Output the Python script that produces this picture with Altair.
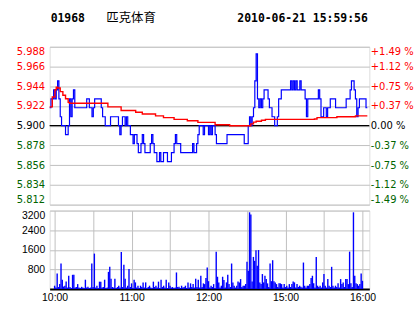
import altair as alt
import pandas as pd

# ---------------- data ----------------
header_code = "01968"
header_name = "匹克体育"
header_time = "2010-06-21 15:59:56"

prev_close = 5.900
price_ticks = [5.812, 5.834, 5.856, 5.878, 5.900, 5.922, 5.944, 5.966, 5.988]
vol_ticks = [0, 800, 1600, 2400, 3200]
grid_minutes = [0, 30, 60, 90, 120, 150, 180, 210, 240]
time_ticks = [0, 60, 120, 180, 240]
time_labels = ["10:00", "11:00", "12:00", "15:00", "16:00"]

# price (blue) change points: minute index from 10:00 (HK session), price
price_min = [0, 1, 3, 4, 5, 6, 7, 8, 9, 12, 14, 15, 16, 17, 18, 19, 28, 30, 32, 33,
             34, 39, 40, 42, 46, 52, 53, 54, 55, 57, 58, 59, 61, 63, 64, 66, 67, 69, 70, 71,
             72, 76, 77, 78, 79, 81, 83, 84, 86, 89, 92, 94, 95, 96, 99, 108, 109, 111, 112, 113,
             116, 117, 120, 121, 122, 123, 125, 126, 134, 147, 150, 151, 152, 153, 154, 155,
             156, 157, 158, 159, 160, 161, 162, 165, 166, 168, 170, 172, 173, 175, 182, 183, 184, 185, 186, 187,
             189, 190, 193, 194, 195, 203, 204, 205, 207, 209, 210, 212, 216, 224, 227, 228, 230, 231, 232, 233,
             234, 239, 240]
price_val = [5.92, 5.93, 5.94, 5.93, 5.94, 5.95, 5.93, 5.91, 5.90, 5.89, 5.90, 5.93, 5.91, 5.93, 5.94, 5.92, 5.93, 5.92, 5.91, 5.92,
             5.93, 5.92, 5.91, 5.90, 5.91, 5.90, 5.89, 5.90, 5.91, 5.90, 5.91, 5.90, 5.89, 5.88, 5.89, 5.88, 5.87, 5.88, 5.89, 5.88,
             5.87, 5.88, 5.89, 5.88, 5.87, 5.86, 5.87, 5.86, 5.87, 5.86, 5.87, 5.88, 5.89, 5.88, 5.87, 5.88, 5.87, 5.88, 5.89, 5.90,
             5.89, 5.90, 5.89, 5.90, 5.89, 5.90, 5.89, 5.88, 5.89, 5.88, 5.90, 5.91, 5.90, 5.91, 5.92, 5.95,
             5.98, 5.93, 5.92, 5.93, 5.92, 5.93, 5.94, 5.93, 5.92, 5.91, 5.90, 5.91, 5.93, 5.94, 5.95, 5.94, 5.95, 5.94, 5.95, 5.94,
             5.95, 5.94, 5.93, 5.91, 5.93, 5.94, 5.93, 5.91, 5.92, 5.91, 5.92, 5.93, 5.92, 5.93, 5.94, 5.95, 5.94, 5.93, 5.91, 5.92,
             5.93, 5.92, 5.92]

# average price (red) change points
avg_min = [0, 2, 4, 5, 6, 8, 10, 12, 14, 15, 42, 44, 52, 54, 63, 65, 69, 70, 78, 80,
           85, 86, 93, 94, 103, 104, 110, 112, 123, 125, 135, 136, 150, 152, 154, 156, 160, 163, 200, 202,
           216, 217, 229, 231, 240]
avg_val = [5.921, 5.932, 5.940, 5.943, 5.942, 5.938, 5.934, 5.930, 5.926, 5.925, 5.925, 5.921, 5.921, 5.917, 5.917, 5.915, 5.915, 5.913, 5.913, 5.911,
           5.911, 5.909, 5.909, 5.907, 5.907, 5.9055, 5.9055, 5.9037, 5.9037, 5.901, 5.901, 5.900, 5.900, 5.902, 5.904, 5.905, 5.906, 5.907, 5.9074, 5.909,
           5.909, 5.910, 5.910, 5.911, 5.911]

# volume per minute, minutes 0..240
volume = [135, 60, 635, 80, 200, 1040, 380, 100, 135, 310,
          60, 540, 80, 40, 580, 580, 60, 80, 200, 60,
          40, 90, 60, 40, 380, 60, 90, 40, 60, 1040,
          80, 1445, 60, 135, 40, 300, 300, 60, 80, 380,
          40, 60, 700, 905, 420, 80, 60, 420, 40, 80,
          135, 60, 1510, 80, 985, 420, 60, 135, 820, 80,
          230, 40, 380, 270, 60, 135, 40, 135, 80, 270,
          60, 270, 40, 80, 135, 60, 40, 300, 80, 135,
          60, 300, 40, 380, 80, 135, 60, 380, 40, 270,
          135, 60, 80, 40, 60, 675, 80, 90, 40, 135,
          60, 80, 135, 40, 270, 60, 230, 80, 200, 60,
          420, 80, 380, 60, 540, 80, 230, 200, 445, 880,
          320, 60, 135, 80, 200, 40, 1525, 500, 270, 60,
          135, 500, 370, 60, 270, 580, 200, 80, 1040, 270,
          135, 60, 135, 310, 270, 405, 80, 135, 135, 200,
          1110, 740, 3130, 3040, 310, 1310, 1150, 1580, 945, 1590,
          270, 200, 610, 270, 540, 405, 230, 80, 1040, 320,
          1175, 320, 270, 200, 80, 230, 230, 200, 60, 200,
          80, 135, 60, 200, 80, 200, 310, 270, 60, 200,
          80, 135, 90, 60, 1080, 135, 60, 135, 135, 200,
          445, 540, 230, 60, 1310, 135, 80, 135, 60, 270,
          610, 135, 60, 405, 135, 80, 905, 135, 60, 135,
          80, 230, 60, 405, 200, 270, 80, 405, 405, 200,
          1525, 230, 80, 3130, 540, 230, 200, 135, 200, 635, 335]

# ---------------- tables ----------------
price_df = pd.DataFrame({"m": price_min, "p": price_val})
avg_df = pd.DataFrame({"m": avg_min, "p": avg_val})
vol_df = pd.DataFrame({"m": list(range(len(volume))), "v": volume})
pc_df = pd.DataFrame({"p": [prev_close]})
hdr_df = pd.DataFrame({"a": [0]})

W = 322
GRID = "#c0c0c0"
RED = "#ff0000"
GREEN = "#006400"

xscale = alt.Scale(domain=[0, 241.5], nice=False, zero=False)
pscale = alt.Scale(domain=[price_ticks[0], price_ticks[-1]], nice=False, zero=False)
vscale = alt.Scale(domain=[0, vol_ticks[-1]], nice=False)

color_cond = {
    "condition": [
        {"test": f"datum.value > {prev_close + 0.0005}", "value": RED},
        {"test": f"datum.value < {prev_close - 0.0005}", "value": GREEN},
    ],
    "value": "#000000",
}

pct_expr = (f"(datum.value > {prev_close + 0.0005} ? '+' : datum.value < {prev_close - 0.0005} ? '-' : '') + "
            f"format(abs(datum.value / {prev_close} - 1) * 100, '.2f') + ' %'")

x_price_axis = alt.Axis(values=grid_minutes, labels=False, ticks=False, title=None,
                        grid=True, gridColor=GRID, domainColor="#000000", domainWidth=2,
                        minExtent=0, maxExtent=0)

left_price_axis = alt.Axis(values=price_ticks, format=".3f", title=None, ticks=False, domain=False,
                           grid=True, gridColor=GRID, labelPadding=5, labelColor=color_cond,
                           labelFlush=True, labelFont="DejaVu Sans", labelFontSize=10,
                           minExtent=49, maxExtent=49)

right_price_axis = alt.Axis(values=price_ticks, orient="right", title=None, ticks=False, domain=False,
                            grid=False, labelPadding=1, labelExpr=pct_expr, labelColor=color_cond,
                            labelFlush=True, labelFont="DejaVu Sans", labelFontSize=10)

blue = alt.Chart(price_df).mark_line(color="#0000ff", strokeWidth=1.2, interpolate="step-after").encode(
    x=alt.X("m:Q", scale=xscale, axis=x_price_axis),
    y=alt.Y("p:Q", scale=pscale, axis=left_price_axis),
)
red = alt.Chart(avg_df).mark_line(color=RED, strokeWidth=1.4, interpolate="step-after").encode(
    x=alt.X("m:Q", scale=xscale, axis=None),
    y=alt.Y("p:Q", scale=pscale, axis=right_price_axis),
)
zero_rule = alt.Chart(pc_df).mark_rule(color="#000000", strokeWidth=1.2).encode(
    y=alt.Y("p:Q", scale=pscale, axis=None),
)

t_code = alt.Chart(hdr_df).mark_text(align="left", baseline="middle", font="DejaVu Sans Mono",
                                     fontWeight="bold", fontSize=11.5, color="#000000").encode(
    x=alt.value(1), y=alt.value(-28), text=alt.value(header_code))
t_name = alt.Chart(hdr_df).mark_text(align="left", baseline="middle", font="Noto Sans CJK SC",
                                     fontSize=12.5, color="#000000").encode(
    x=alt.value(57), y=alt.value(-29), text=alt.value(header_name))
t_time = alt.Chart(hdr_df).mark_text(align="left", baseline="middle", font="DejaVu Sans Mono",
                                     fontWeight="bold", fontSize=11.5, color="#000000").encode(
    x=alt.value(189), y=alt.value(-28), text=alt.value(header_time))

price_panel = alt.layer(zero_rule, blue, red, t_code, t_name, t_time).resolve_scale(
    y="shared").resolve_axis(y="independent").properties(width=W, height=159)

time_expr = " : ".join(f"datum.value == {t} ? '{l}'" for t, l in zip(time_ticks, time_labels)) + " : ''"

bars = alt.Chart(vol_df).mark_bar(color="#0000ff", size=1.4).encode(
    x=alt.X("m:Q", scale=xscale,
            axis=alt.Axis(values=grid_minutes, labelExpr=time_expr, title=None, ticks=False,
                          grid=True, gridColor=GRID, domainColor="#000000", domainWidth=2,
                          labelFont="Liberation Sans", labelFontSize=10.5, labelPadding=4,
                          labelOverlap=False, labelFlush=False, labelColor="#000000")),
    y=alt.Y("v:Q", scale=vscale,
            axis=alt.Axis(values=vol_ticks, labelExpr="datum.value == 0 ? '' : datum.label",
                          format="d", title=None, ticks=False, domain=False, grid=True,
                          gridColor=GRID, labelPadding=5, labelFont="Liberation Sans",
                          labelFlush=True, labelFontSize=10.5, labelColor="#000000",
                          minExtent=49, maxExtent=49)),
)
vol_panel = bars.properties(width=W, height=79)

chart = alt.vconcat(price_panel, vol_panel, spacing=6, bounds="flush").properties(
    padding={"left": 0, "top": 10, "right": 0, "bottom": 0}
).configure_view(stroke=GRID, strokeWidth=1).configure(background="#ffffff")

chart.save("out.html", embed_options={"renderer": "svg", "actions": False})
